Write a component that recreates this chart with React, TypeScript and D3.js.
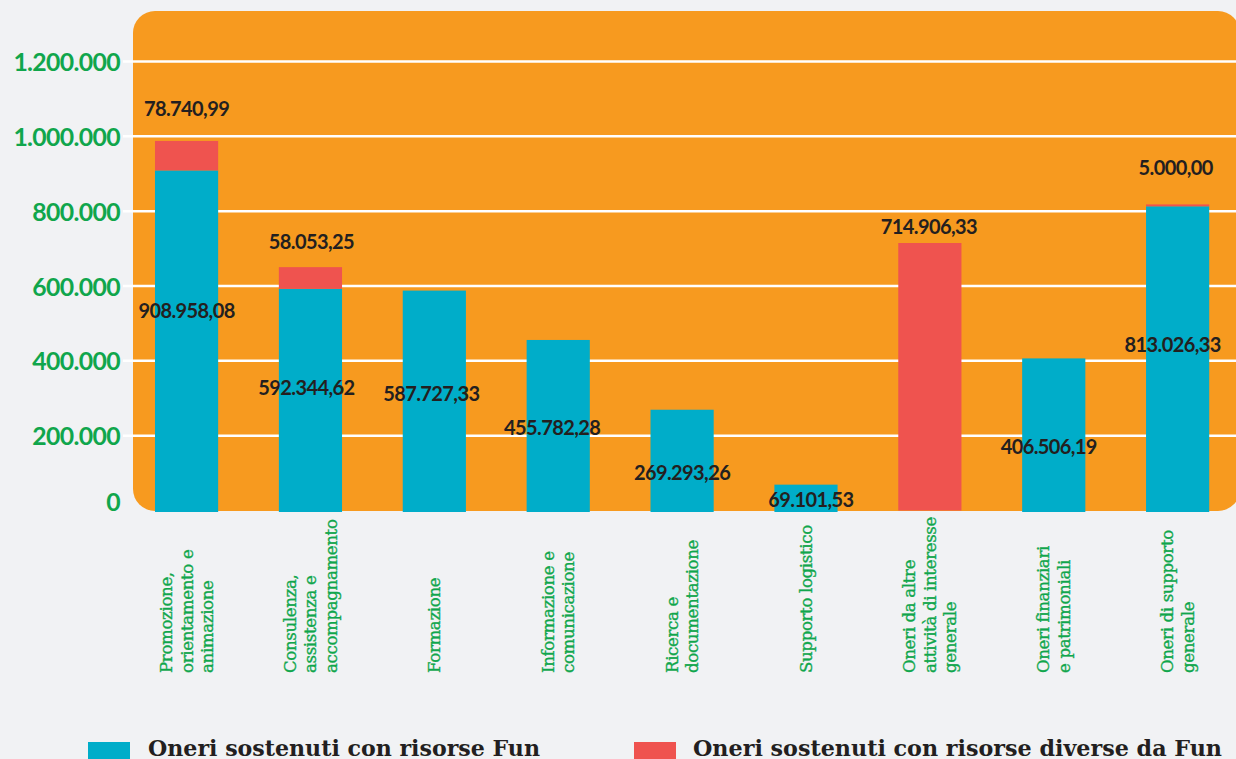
import React from "react";
import * as d3 from "d3";

const categories: string[] = [
  "Promozione,\norientamento e\nanimazione",
  "Consulenza,\nassistenza e\naccompagnamento",
  "Formazione",
  "Informazione e\ncomunicazione",
  "Ricerca e\ndocumentazione",
  "Supporto logistico",
  "Oneri da altre\nattività di interesse\ngenerale",
  "Oneri finanziari\ne patrimoniali",
  "Oneri di supporto\ngenerale",
];

const fundValues: number[] = [
  908958.08, 592344.62, 587727.33, 455782.28, 269293.26, 69101.53, 0, 406506.19, 813026.33,
];
const otherValues: number[] = [78740.99, 58053.25, 0, 0, 0, 0, 714906.33, 0, 5000.0];

const yTicks: number[] = [0, 200000, 400000, 600000, 800000, 1000000, 1200000];

const seriesNames: string[] = [
  "Oneri sostenuti con risorse Fun",
  "Oneri sostenuti con risorse diverse da Fun",
];

// label nudges (pixels) for readability, layout only
const fundLabelNudgeX = [0, -4, -3, -6, 0, 5, 0, -5, -5];
const fundLabelNudgeY = [-30, -13, -8, 2, 12, 1, 0, 12, -14];
const otherLabelNudgeX = [0, 1, 0, 0, 0, 0, -1, 0, -2];
const otherLabelNudgeY = [-33, -26, -17, 0, 0, 0, -17, 0, -37];

const W = 1236;
const H = 759;
const BG = "#f1f2f4";
const ORANGE = "#f79a1f";
const BLUE = "#00adc9";
const RED = "#ef534f";
const GREEN = "#10a64c";
const DARK = "#231f20";

const fmt = (v: number) => {
  const s = v.toFixed(2);
  const [i, d] = s.split(".");
  const ii = i.replace(/\B(?=(\d{3})+(?!\d))/g, ".");
  return ii + "," + d;
};
const fmtTick = (v: number) => (v === 0 ? "0" : String(v).replace(/\B(?=(\d{3})+(?!\d))/g, "."));

export default function App() {
  const x = d3
    .scaleBand<number>()
    .domain(d3.range(categories.length))
    .range([130.2, 1234])
    .paddingInner(0.49)
    .paddingOuter(0.2);
  const y = d3.scaleLinear().domain([0, 1200000]).range([510.5, 61.5]);
  const bw = x.bandwidth();

  const panelX = 133;
  const panelY = 11;
  const panelR = 22;
  const panelRight = 1240;
  const panelBottom = 511;

  return (
    <svg
      width={W}
      height={H}
      style={{ position: "absolute", left: 0, top: 0, display: "block" }}
    >
      <rect x={0} y={0} width={W} height={H} fill={BG} />
      <rect
        x={panelX}
        y={panelY}
        width={panelRight - panelX}
        height={panelBottom - panelY}
        rx={panelR}
        ry={panelR}
        fill={ORANGE}
      />
      {yTicks
        .filter((t) => t > 0)
        .map((t) => (
          <line
            key={"g" + t}
            x1={123}
            x2={W}
            y1={y(t)}
            y2={y(t)}
            stroke="#ffffff"
            strokeWidth={2.5}
          />
        ))}
      {yTicks.map((t) => (
        <text
          key={"t" + t}
          x={120}
          y={y(t) - (t === 0 ? 9 : 0)}
          textAnchor="end"
          dominantBaseline="central"
          fill={GREEN}
          fontFamily="Lato"
          fontWeight={700}
          fontSize={24.8}
          letterSpacing={-0.65}
        >
          {fmtTick(t)}
        </text>
      ))}
      {categories.map((c, i) => {
        const x0 = x(i)!;
        const f = fundValues[i];
        const o = otherValues[i];
        return (
          <g key={"b" + i}>
            {f > 0 && (
              <rect x={x0} y={y(f)} width={bw} height={y(0) + 1.5 - y(f)} fill={BLUE} />
            )}
            {o > 0 && (
              <rect x={x0} y={y(f + o)} width={bw} height={y(f) - y(f + o)} fill={RED} />
            )}
          </g>
        );
      })}
      {categories.map((c, i) => {
        const cx = x(i)! + bw / 2;
        const f = fundValues[i];
        const o = otherValues[i];
        return (
          <g key={"l" + i}>
            {f > 0 && (
              <text
                x={cx + fundLabelNudgeX[i]}
                y={(y(0) + y(f)) / 2 + fundLabelNudgeY[i]}
                textAnchor="middle"
                dominantBaseline="central"
                fill={DARK}
                fontFamily="Lato"
                fontWeight={700}
                fontSize={20}
                letterSpacing={-0.6}
              >
                {fmt(f)}
              </text>
            )}
            {o > 0 && (
              <text
                x={cx + otherLabelNudgeX[i]}
                y={y(f + o) + otherLabelNudgeY[i]}
                textAnchor="middle"
                dominantBaseline="central"
                fill={DARK}
                fontFamily="Lato"
                fontWeight={700}
                fontSize={20}
                letterSpacing={-0.6}
              >
                {fmt(o)}
              </text>
            )}
          </g>
        );
      })}
      {categories.map((c, i) => {
        const cx = x(i)! + bw / 2;
        const lines = c.split("\n");
        const L = 20.5;
        return (
          <text
            key={"c" + i}
            transform={`translate(${cx},673) rotate(-90)`}
            textAnchor="start"
            fill={GREEN}
            stroke={GREEN}
            strokeWidth={0.35}
            fontFamily="DejaVu Serif"
            fontSize={16.6}
            letterSpacing={-0.35}
          >
            {lines.map((ln, j) => (
              <tspan key={j} x={0} y={(j - (lines.length - 1) / 2) * L + 6}>
                {ln}
              </tspan>
            ))}
          </text>
        );
      })}
      <g>
        <rect x={88} y={742} width={42} height={20} fill={BLUE} />
        <text
          x={148}
          y={755.5}
          fill={DARK}
          fontFamily="DejaVu Serif"
          fontWeight={700}
          fontSize={21.5}
          textLength={392}
          lengthAdjust="spacingAndGlyphs"
        >
          {seriesNames[0]}
        </text>
        <rect x={634} y={742} width={42} height={20} fill={RED} />
        <text
          x={693}
          y={755.5}
          fill={DARK}
          fontFamily="DejaVu Serif"
          fontWeight={700}
          fontSize={21.5}
          textLength={529}
          lengthAdjust="spacingAndGlyphs"
        >
          {seriesNames[1]}
        </text>
      </g>
    </svg>
  );
}
